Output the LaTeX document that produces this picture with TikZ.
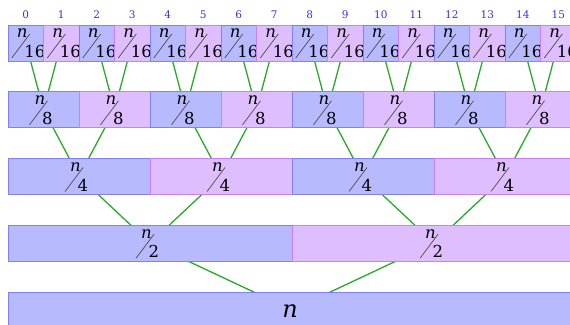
\documentclass[tikz,border=0pt]{standalone}
\usepackage{fontspec}
\setmainfont{DejaVu Serif}
\usetikzlibrary{backgrounds}
\definecolor{bfill}{RGB}{184,186,255}
\definecolor{bdraw}{RGB}{128,128,255}
\definecolor{pfill}{RGB}{222,190,255}
\definecolor{pdraw}{RGB}{196,128,255}
\definecolor{linkgreen}{RGB}{40,170,40}
\definecolor{idxblue}{RGB}{50,50,230}
\begin{document}
\begin{tikzpicture}[x=1pt,y=1pt,
  cell/.style={draw, line width=0.8pt, inner sep=0pt, minimum height=36pt},
  c0/.style={cell, fill=bfill, draw=bdraw},
  c1/.style={cell, fill=pfill, draw=pdraw},
  link/.style={draw=linkgreen, line width=1.3pt},
  idx/.style={text=idxblue, inner sep=0pt, font=\fontsize{10.5}{10.5}\selectfont},
  numer/.style={anchor=east, inner sep=0pt, font=\fontsize{16.5}{16.5}\selectfont\itshape},
  denom/.style={anchor=west, inner sep=0pt, font=\fontsize{16.5}{16.5}\selectfont},
  slash/.style={draw=black!70, line width=0.7pt},
  whole/.style={inner sep=0pt, font=\fontsize{24}{24}\selectfont\itshape}
]
\useasboundingbox (0,0) rectangle (570,-324);
\clip (0,0) rectangle (570,-324);

% rows of boxes with slashed fractions
\foreach \lev/\cnt in {4/16, 3/8, 2/4, 1/2} {
  \pgfmathsetmacro\w{568/\cnt}
  \pgfmathsetmacro\yc{-25-66.75*(4-\lev)-18}
  \pgfmathtruncatemacro\last{\cnt-1}
  \foreach \i in {0,...,\last} {
    \pgfmathtruncatemacro\p{mod(\i,2)}
    \pgfmathsetmacro\xc{8+\w*(\i+0.5)}
    \node[c\p, minimum width=\w pt] (r\lev-\i) at (\xc,\yc) {};
    \node[numer] (r\lev-\i-n) at ([shift={(2,9.5)}]r\lev-\i.center) {n};
    \node[denom] (r\lev-\i-d) at ([shift={(-1.5,-8.5)}]r\lev-\i.center) {\cnt};
    \draw[slash] ([shift={(-14,-15)}]r\lev-\i.center) -- ([shift={(4,9)}]r\lev-\i.center);
  }
}

% whole array
\node[c0, minimum width=568pt] (r0-0) at (292,-310) {};
\node[whole] (r0-0-n) at ([shift={(-2,-1)}]r0-0.center) {n};

% index labels
\foreach \i in {0,...,15} {
  \node[idx] (lab\i) at ([yshift=10pt]r4-\i.north) {\i};
}

% connectors behind the boxes
\begin{pgfonlayer}{background}
\foreach \lev/\cnt in {4/16, 3/8, 2/4, 1/2} {
  \pgfmathtruncatemacro\last{\cnt-1}
  \pgfmathtruncatemacro\up{\lev-1}
  \foreach \i in {0,...,\last} {
    \pgfmathtruncatemacro\j{floor(\i/2)}
    \draw[link] (r\lev-\i.center) -- (r\up-\j.center);
  }
}
\end{pgfonlayer}
\end{tikzpicture}
\end{document}
